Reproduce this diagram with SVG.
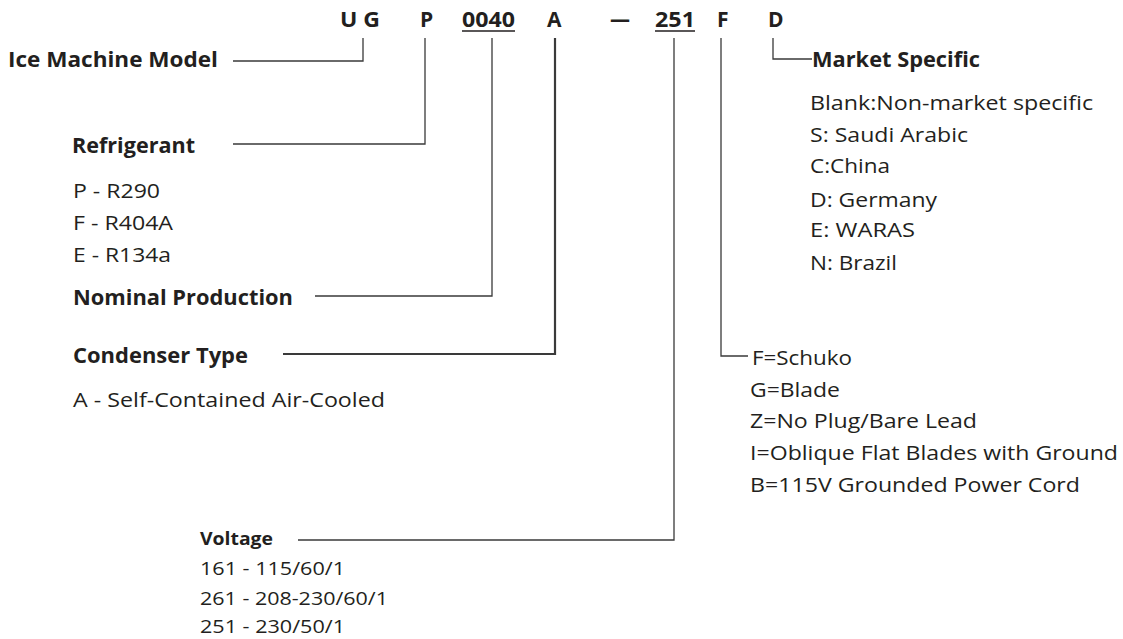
<svg xmlns="http://www.w3.org/2000/svg" width="1123" height="639" viewBox="0 0 1123 639">
<style>
text{font-family:"Open Sans","Noto Sans",sans-serif;fill:#231f20}
.h{font-weight:bold;font-size:21px}
.t{font-weight:bold;font-size:21px}
.r{font-size:20.5px}
.v{font-size:18.5px}
.vt{font-weight:bold;font-size:18px}
.c{fill:none;stroke:#3a3a3a;stroke-width:1.3}
.ul{stroke:#231f20;stroke-width:1.5}
</style>
<rect width="1123" height="639" fill="#fff"/>
<g id="code">
<text class="h" x="340" y="27" textLength="40" lengthAdjust="spacingAndGlyphs">U G</text>
<text class="h" x="420" y="27">P</text>
<text class="h" x="462" y="27" textLength="53" lengthAdjust="spacingAndGlyphs">0040</text>
<line class="ul" x1="462" y1="31" x2="515" y2="31"/>
<text class="h" x="547" y="27">A</text>
<text class="h" x="610" y="27" textLength="20" lengthAdjust="spacingAndGlyphs">—</text>
<text class="h" x="655" y="27" textLength="40" lengthAdjust="spacingAndGlyphs">251</text>
<line class="ul" x1="655" y1="31" x2="695" y2="31"/>
<text class="h" x="717" y="27">F</text>
<text class="h" x="768" y="27">D</text>
</g>
<g id="connectors">
<path class="c" d="M233,61 H363 V38"/>
<path class="c" d="M233,144 H425 V38"/>
<path class="c" d="M315,296 H492 V38"/>
<path class="c" d="M283,354 H555 V38" style="stroke-width:2.2"/>
<path class="c" d="M298,540 H674 V38"/>
<path class="c" d="M721,38 V356 H748"/>
<path class="c" d="M773,38 V59 H812"/>
</g>
<g id="ice-machine-model">
<text class="t" x="8" y="67" textLength="210" lengthAdjust="spacingAndGlyphs">Ice Machine Model</text>
</g>
<g id="refrigerant">
<text class="t" x="72" y="153" textLength="123" lengthAdjust="spacingAndGlyphs">Refrigerant</text>
<text class="r" x="73" y="198" textLength="87" lengthAdjust="spacingAndGlyphs">P - R290</text>
<text class="r" x="73" y="230" textLength="100" lengthAdjust="spacingAndGlyphs">F - R404A</text>
<text class="r" x="73" y="262" textLength="98" lengthAdjust="spacingAndGlyphs">E - R134a</text>
</g>
<g id="nominal-production">
<text class="t" x="73" y="305" textLength="220" lengthAdjust="spacingAndGlyphs">Nominal Production</text>
</g>
<g id="condenser-type">
<text class="t" x="73" y="363" textLength="175" lengthAdjust="spacingAndGlyphs">Condenser Type</text>
<text class="r" x="73" y="407" textLength="312" lengthAdjust="spacingAndGlyphs">A - Self-Contained Air-Cooled</text>
</g>
<g id="voltage">
<text class="vt" x="200" y="545" textLength="73" lengthAdjust="spacingAndGlyphs">Voltage</text>
<text class="v" x="200" y="575" textLength="145" lengthAdjust="spacingAndGlyphs">161 - 115/60/1</text>
<text class="v" x="200" y="605" textLength="188" lengthAdjust="spacingAndGlyphs">261 - 208-230/60/1</text>
<text class="v" x="200" y="633" textLength="145" lengthAdjust="spacingAndGlyphs">251 - 230/50/1</text>
</g>
<g id="plug">
<text class="r" x="752" y="365" textLength="100" lengthAdjust="spacingAndGlyphs">F=Schuko</text>
<text class="r" x="750" y="397" textLength="90" lengthAdjust="spacingAndGlyphs">G=Blade</text>
<text class="r" x="750" y="428" textLength="227" lengthAdjust="spacingAndGlyphs">Z=No Plug/Bare Lead</text>
<text class="r" x="750" y="460" textLength="368" lengthAdjust="spacingAndGlyphs">I=Oblique Flat Blades with Ground</text>
<text class="r" x="750" y="492" textLength="330" lengthAdjust="spacingAndGlyphs">B=115V Grounded Power Cord</text>
</g>
<g id="market-specific">
<text class="t" x="812" y="67" textLength="168" lengthAdjust="spacingAndGlyphs">Market Specific</text>
<text class="r" x="810" y="110" textLength="283" lengthAdjust="spacingAndGlyphs">Blank:Non-market specific</text>
<text class="r" x="810" y="142" textLength="158" lengthAdjust="spacingAndGlyphs">S: Saudi Arabic</text>
<text class="r" x="810" y="173" textLength="80" lengthAdjust="spacingAndGlyphs">C:China</text>
<text class="r" x="810" y="207" textLength="127" lengthAdjust="spacingAndGlyphs">D: Germany</text>
<text class="r" x="810" y="237" textLength="105" lengthAdjust="spacingAndGlyphs">E: WARAS</text>
<text class="r" x="810" y="270" textLength="87" lengthAdjust="spacingAndGlyphs">N: Brazil</text>
</g>
</svg>
